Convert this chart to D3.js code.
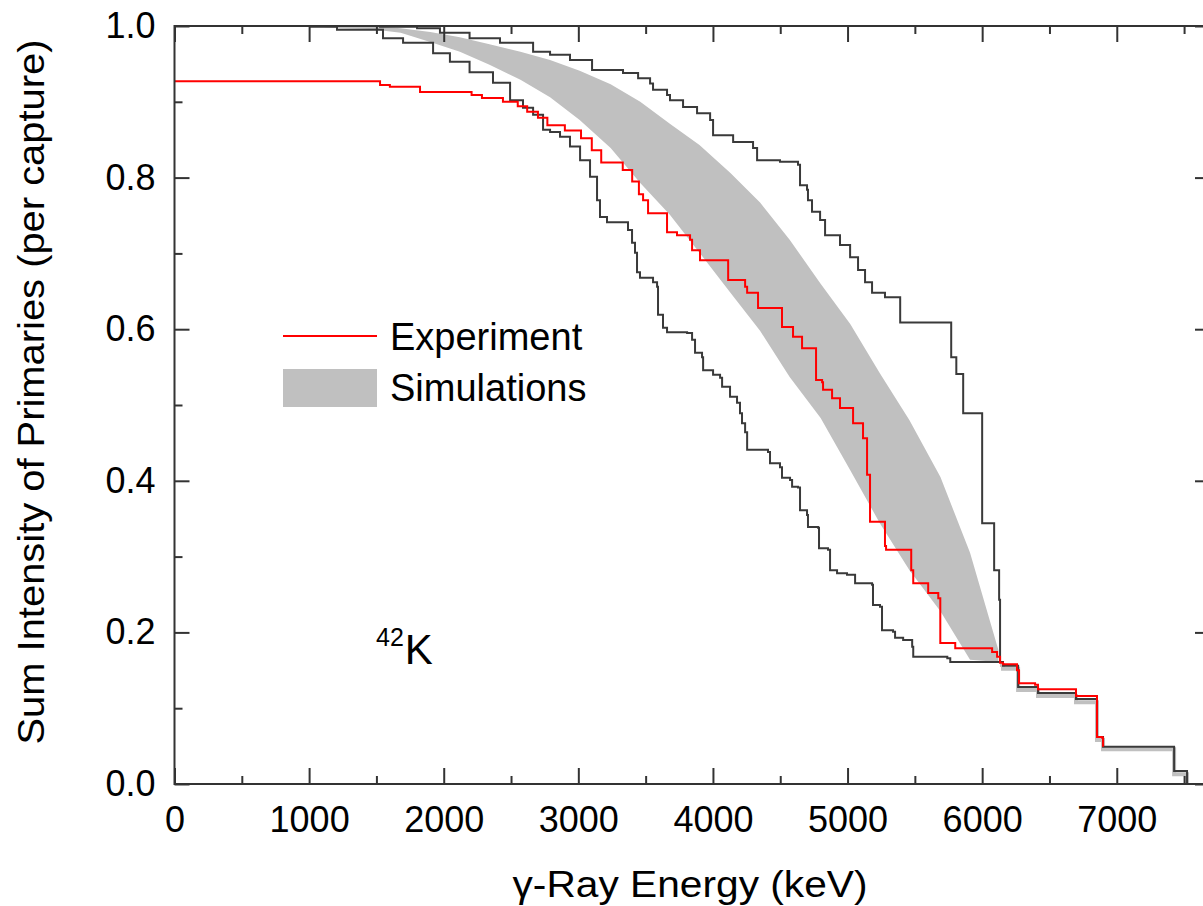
<!DOCTYPE html>
<html>
<head>
<meta charset="utf-8">
<script src="https://cdn.jsdelivr.net/npm/d3@7"></script>
<style>
  body { margin: 0; background: #fff; }
  svg text { font-family: "Liberation Sans", Arial, sans-serif; fill: #000; }
</style>
</head>
<body>
<div id="main"></div>
<script>
// energy in keV, intensity per capture

// measured spectrum, step points [E, I]
const experiment = [
  [0, 0.927], [1527, 0.922], [1600, 0.920], [1824, 0.913], [2207, 0.909], [2284, 0.905],
  [2440, 0.900], [2550, 0.894], [2620, 0.887], [2700, 0.879], [2770, 0.869], [2900, 0.862],
  [3020, 0.852], [3100, 0.836], [3170, 0.820], [3330, 0.810], [3400, 0.795], [3450, 0.778],
  [3481, 0.770], [3518, 0.753], [3659, 0.728], [3733, 0.724], [3830, 0.718], [3845, 0.704],
  [3904, 0.691], [4113, 0.665], [4239, 0.656], [4254, 0.648], [4335, 0.628], [4513, 0.603],
  [4595, 0.590], [4662, 0.575], [4766, 0.533], [4811, 0.530], [4818, 0.520], [4885, 0.509],
  [4944, 0.496], [5041, 0.476], [5115, 0.456], [5145, 0.408], [5167, 0.346], [5278, 0.314],
  [5286, 0.309], [5473, 0.282], [5488, 0.265], [5599, 0.252], [5674, 0.245], [5689, 0.186],
  [5800, 0.179], [6074, 0.174], [6111, 0.168], [6133, 0.160], [6155, 0.158], [6259, 0.150],
  [6274, 0.133], [6393, 0.131], [6415, 0.125], [6697, 0.116], [6853, 0.062], [6891, 0.061],
  [6898, 0.049]
];

// upper simulation envelope (step points)
const upperEnv = [
  [0, 1.0], [1527, 0.999], [1802, 0.997], [1972, 0.991], [2192, 0.984], [2418, 0.978],
  [2664, 0.966], [2790, 0.962], [2938, 0.955], [3102, 0.942], [3332, 0.938], [3444, 0.931],
  [3533, 0.924], [3555, 0.916], [3659, 0.909], [3681, 0.902], [3778, 0.893], [3882, 0.885],
  [3979, 0.876], [4001, 0.856], [4150, 0.847], [4298, 0.839], [4328, 0.823], [4498, 0.821],
  [4632, 0.817], [4647, 0.790], [4699, 0.784], [4706, 0.770], [4736, 0.755], [4796, 0.744],
  [4833, 0.724], [4944, 0.711], [5019, 0.695], [5078, 0.678], [5130, 0.662], [5182, 0.648],
  [5278, 0.642], [5391, 0.609], [5770, 0.563], [5808, 0.541], [5859, 0.489], [6000, 0.344],
  [6089, 0.282], [6126, 0.243], [6133, 0.161]
];

// lower simulation envelope (step points)
const lowerEnv = [
  [0, 1.0], [1007, 0.999], [1207, 0.995], [1549, 0.984], [1698, 0.978], [1921, 0.964],
  [2046, 0.953], [2192, 0.939], [2366, 0.925], [2493, 0.902], [2589, 0.892], [2664, 0.883],
  [2738, 0.863], [2790, 0.860], [2864, 0.854], [2938, 0.841], [3013, 0.823], [3087, 0.801],
  [3139, 0.770], [3161, 0.748], [3213, 0.741], [3369, 0.731], [3399, 0.714], [3421, 0.701],
  [3436, 0.675], [3458, 0.668], [3555, 0.662], [3585, 0.656], [3592, 0.619], [3629, 0.602],
  [3659, 0.596], [3808, 0.595], [3845, 0.586], [3867, 0.569], [3919, 0.563], [3927, 0.546],
  [4001, 0.540], [4053, 0.536], [4068, 0.524], [4127, 0.511], [4179, 0.503], [4201, 0.489],
  [4216, 0.476], [4239, 0.464], [4254, 0.441], [4409, 0.438], [4424, 0.423], [4498, 0.418],
  [4513, 0.404], [4573, 0.401], [4588, 0.392], [4632, 0.391], [4647, 0.361], [4699, 0.355],
  [4706, 0.339], [4781, 0.338], [4788, 0.311], [4855, 0.309], [4870, 0.282], [4922, 0.278],
  [4996, 0.276], [5056, 0.265], [5182, 0.263], [5189, 0.236], [5241, 0.234], [5256, 0.203],
  [5338, 0.201], [5353, 0.193], [5413, 0.190], [5480, 0.181], [5488, 0.168], [5741, 0.166],
  [5763, 0.161], [6133, 0.161]
];

// high-energy part common to all simulations
const tail = [
  [6133, 0.161], [6155, 0.156], [6267, 0.128], [6415, 0.120], [6697, 0.112],
  [6853, 0.062], [6898, 0.049], [7426, 0.017], [7522, 0.0]
];
const tailShadow = [
  [6133, 0.157], [6155, 0.152], [6267, 0.124], [6415, 0.116], [6697, 0.108],
  [6853, 0.058], [6898, 0.046], [7426, 0.013], [7522, 0.0]
];

// simulation band [E, low, high]
const simBand = [
  [1000, 1.0, 1.0], [1230, 0.997, 1.0], [1450, 0.996, 1.0], [1680, 0.991, 0.997],
  [1900, 0.979, 0.992], [2120, 0.966, 0.985], [2340, 0.949, 0.976], [2570, 0.929, 0.966],
  [2790, 0.906, 0.955], [3010, 0.876, 0.941], [3240, 0.839, 0.923], [3460, 0.793, 0.900],
  [3680, 0.751, 0.871], [3900, 0.701, 0.843], [4130, 0.648, 0.806], [4350, 0.598, 0.767],
  [4570, 0.537, 0.718], [4800, 0.483, 0.660], [5020, 0.414, 0.607], [5240, 0.344, 0.542],
  [5460, 0.282, 0.480], [5690, 0.228, 0.405], [5910, 0.164, 0.305], [6120, 0.161, 0.177]
];

const xMajor = [0, 1000, 2000, 3000, 4000, 5000, 6000, 7000];
const xMinor = [500, 1500, 2500, 3500, 4500, 5500, 6500, 7500];
const yMajor = [0.0, 0.2, 0.4, 0.6, 0.8, 1.0];
const yMinor = [0.1, 0.3, 0.5, 0.7, 0.9];

const ctx = {
  w: 1203,
  h: 906,
  left: 174.5,
  right: 1211,
  top: 26,
  bottom: 784,
  axisColor: "#333",
  envColor: "#3a3a3a",
  bandColor: "#c0c0c0",
};

let svg = d3.select("#main").append("svg")
  .attr("width", ctx.w)
  .attr("height", ctx.h);

let x = d3.scaleLinear().domain([0, 7700]).range([ctx.left, ctx.right]);
let y = d3.scaleLinear().domain([0, 1]).range([ctx.bottom, ctx.top]);

let plot = svg.append("g");

// grey band
let area = d3.area()
  .x(d => x(d[0]))
  .y0(d => y(d[1]))
  .y1(d => y(d[2]));
plot.append("path")
  .datum(simBand)
  .attr("d", area)
  .attr("fill", ctx.bandColor);

let step = d3.line()
  .x(d => x(d[0]))
  .y(d => y(d[1]))
  .curve(d3.curveStepAfter);

plot.append("path")
  .datum(tailShadow)
  .attr("d", step)
  .attr("fill", "none")
  .attr("stroke", ctx.bandColor)
  .attr("stroke-width", 4);

[upperEnv, lowerEnv, tail].forEach(s => {
  plot.append("path")
    .datum(s)
    .attr("d", step)
    .attr("fill", "none")
    .attr("stroke", ctx.envColor)
    .attr("stroke-width", 2);
});

plot.append("path")
  .datum(experiment)
  .attr("d", step)
  .attr("fill", "none")
  .attr("stroke", "#ff0000")
  .attr("stroke-width", 2);

// axes, ticks pointing inwards
function styleAxis(g) {
  g.select(".domain").remove();
  g.selectAll(".tick line").attr("stroke", ctx.axisColor).attr("stroke-width", 2);
  g.selectAll(".tick text").style("font-size", "36px").attr("fill", "#000");
}

svg.append("g")
  .attr("transform", `translate(0,${ctx.bottom})`)
  .call(d3.axisBottom(x).tickValues(xMajor).tickSize(-16).tickPadding(22).tickFormat(d3.format("d")))
  .call(styleAxis);
svg.append("g")
  .attr("transform", `translate(0,${ctx.bottom})`)
  .call(d3.axisBottom(x).tickValues(xMinor).tickSize(-8).tickFormat(""))
  .call(styleAxis);
svg.append("g")
  .attr("transform", `translate(0,${ctx.top})`)
  .call(d3.axisTop(x).tickValues(xMajor).tickSize(-16).tickFormat(""))
  .call(styleAxis);
svg.append("g")
  .attr("transform", `translate(0,${ctx.top})`)
  .call(d3.axisTop(x).tickValues(xMinor).tickSize(-8).tickFormat(""))
  .call(styleAxis);

svg.append("g")
  .attr("transform", `translate(${ctx.left},0)`)
  .call(d3.axisLeft(y).tickValues(yMajor).tickSize(-15).tickPadding(19).tickFormat(d3.format(".1f")))
  .call(styleAxis);
svg.append("g")
  .attr("transform", `translate(${ctx.left},0)`)
  .call(d3.axisLeft(y).tickValues(yMinor).tickSize(-8).tickFormat(""))
  .call(styleAxis);
svg.append("g")
  .attr("transform", `translate(${ctx.right},0)`)
  .call(d3.axisRight(y).tickValues(yMajor).tickSize(-16).tickFormat(""))
  .call(styleAxis);
svg.append("g")
  .attr("transform", `translate(${ctx.right},0)`)
  .call(d3.axisRight(y).tickValues(yMinor).tickSize(-8).tickFormat(""))
  .call(styleAxis);

// frame
svg.append("rect")
  .attr("x", ctx.left)
  .attr("y", ctx.top)
  .attr("width", ctx.right - ctx.left)
  .attr("height", ctx.bottom - ctx.top)
  .attr("fill", "none")
  .attr("stroke", ctx.axisColor)
  .attr("stroke-width", 2);

// axis titles
svg.append("text")
  .attr("x", 690)
  .attr("y", 897)
  .attr("text-anchor", "middle")
  .attr("textLength", 355)
  .attr("lengthAdjust", "spacingAndGlyphs")
  .style("font-size", "36px")
  .text("γ-Ray Energy (keV)");

svg.append("text")
  .attr("transform", "translate(44,392) rotate(-90)")
  .attr("text-anchor", "middle")
  .attr("textLength", 705)
  .attr("lengthAdjust", "spacingAndGlyphs")
  .style("font-size", "36px")
  .text("Sum Intensity of Primaries (per capture)");

// legend
let legend = svg.append("g");
legend.append("line")
  .attr("x1", 283).attr("x2", 377)
  .attr("y1", 336).attr("y2", 336)
  .attr("stroke", "#ff0000")
  .attr("stroke-width", 2);
legend.append("rect")
  .attr("x", 283).attr("y", 369)
  .attr("width", 94).attr("height", 38)
  .attr("fill", ctx.bandColor);
legend.append("text")
  .attr("x", 390).attr("y", 350)
  .style("font-size", "38px")
  .text("Experiment");
legend.append("text")
  .attr("x", 390).attr("y", 401)
  .style("font-size", "38px")
  .text("Simulations");

// nucleus label
let nuc = svg.append("text")
  .attr("x", 376).attr("y", 664)
  .style("font-size", "42px");
nuc.append("tspan")
  .attr("dy", -18)
  .style("font-size", "25px")
  .text("42");
nuc.append("tspan")
  .attr("dy", 18)
  .attr("dx", 1)
  .text("K");
</script>
</body>
</html>
